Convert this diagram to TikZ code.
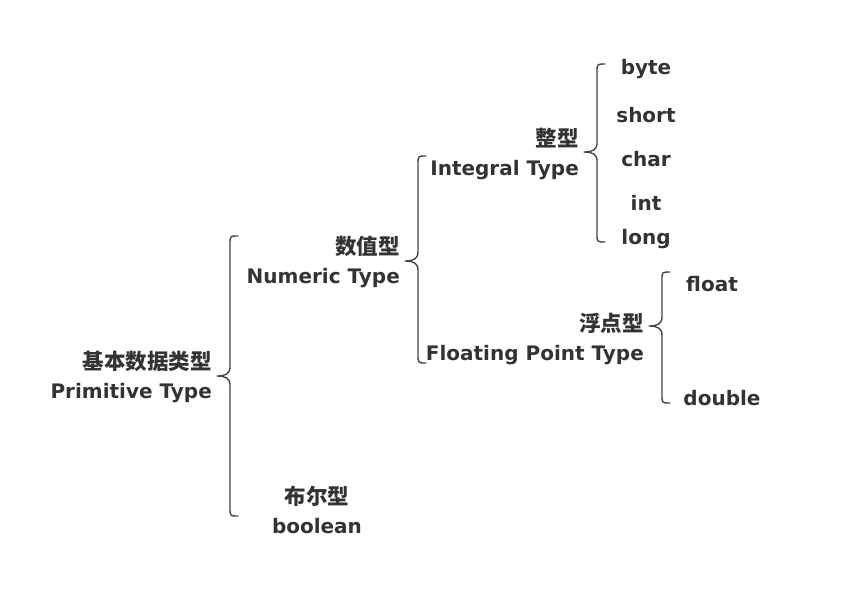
\documentclass[tikz,border=0pt]{standalone}
\usepackage{fontspec}
\setmainfont{DejaVu Sans}
\newfontfamily\cjk{Noto Sans CJK SC}
\definecolor{txt}{HTML}{333333}
\definecolor{ln}{HTML}{444444}
\tikzset{
  lbl/.style={text=txt, font=\fontsize{20}{29}\selectfont\bfseries, align=right, inner sep=0pt},
  leaf/.style={text=txt, font=\fontsize{20}{29}\selectfont\bfseries, inner sep=0pt},
  brc/.style={draw=ln, line width=1.4pt, line cap=round, line join=round}
}
\newcommand\zh[1]{{\cjk\fontsize{21.5}{29}\selectfont #1}}
% #1 = x of vertical line, #2 = top y, #3 = bottom y, #4 = tip y, #5 = name
\newcommand\mybrace[5]{%
  \coordinate (#5-top) at (#1+8,#2);
  \coordinate (#5-bot) at (#1+8,#3);
  \coordinate (#5-tip) at (#1-13,#4);
  \draw[brc] (#5-top) .. controls (#1,#2) and (#1,#2) .. (#1,#2+8)
    -- (#1,#4-9) .. controls (#1,#4-2) and (#1-5,#4) .. (#5-tip)
    .. controls (#1-5,#4) and (#1,#4+2) .. (#1,#4+9)
    -- (#1,#3-8) .. controls (#1,#3) and (#1,#3) .. (#5-bot);
}
\begin{document}
\begin{tikzpicture}[x=1pt,y=-1pt]
\useasboundingbox (0,0) rectangle (864,590);

% labels
\node[lbl, anchor=east] (prim) at (212,377) {\zh{基本数据类型}\\Primitive Type};
\node[lbl, anchor=east] (num) at (400,262) {\zh{数值型}\\Numeric Type};
\node[lbl, anchor=center, align=center] (bool) at (317,510) {\zh{布尔型}\\boolean};
\node[lbl, anchor=east] (intg) at (579,154) {\zh{整型}\\Integral Type};
\node[lbl, anchor=east] (flt) at (644,339) {\zh{浮点型}\\Floating Point Type};

% leaves
\node[leaf] (byte) at (646,69) {byte};
\node[leaf] (short) at (646,115) {short};
\node[leaf] (char) at (646,159) {char};
\node[leaf] (int) at (646,203) {int};
\node[leaf] (long) at (646,239) {long};
\node[leaf] (float) at (712,284) {float};
\node[leaf] (double) at (722,398) {double};

% braces
\mybrace{230}{236}{516}{376}{b1}
\mybrace{418}{156}{363}{261}{b2}
\mybrace{597}{64}{242}{152}{b3}
\mybrace{662}{272}{403}{326}{b4}
\end{tikzpicture}
\end{document}
